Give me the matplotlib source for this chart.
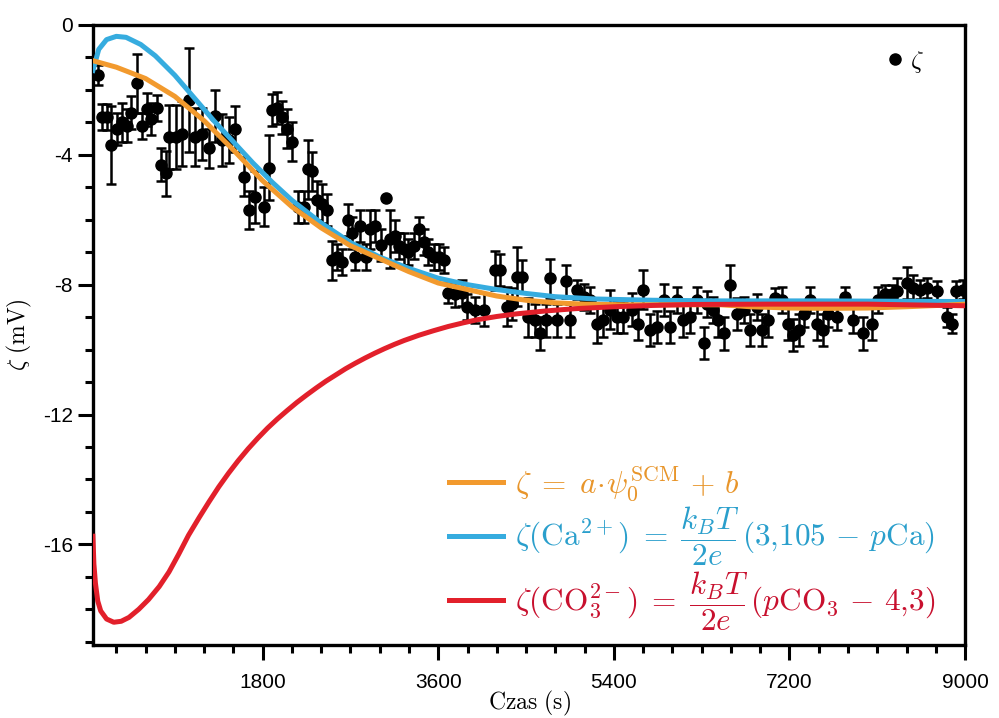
import matplotlib
matplotlib.use("Agg")
import matplotlib.pyplot as plt
from matplotlib.lines import Line2D
from matplotlib.ticker import MultipleLocator, FixedLocator

# ---- measured zeta data (time s, zeta mV, error mV) ----
t_data = [113, 155, 200, 250, 310, 360, 405, 455, 510, 560, 610, 660, 715, 755, 810, 840,
          910, 970, 1040, 1110, 1180, 1245, 1315, 1385, 1450, 1520, 1605, 1655, 1725, 1810,
          1860, 1895, 1945, 1995, 2050, 2105, 2160, 2220, 2260, 2310, 2360, 2410, 2460, 2515,
          2565, 2615, 2670, 2720, 2750, 2800, 2855, 2905, 2955, 3010, 3060, 3110, 3160, 3195,
          3245, 3295, 3350, 3400, 3450, 3500, 3555, 3605, 3655, 3705, 3775, 3845, 3895, 3980,
          4065, 4185, 4235, 4305, 4360, 4410, 4460, 4525, 4595, 4645, 4700, 4750, 4820, 4905,
          4955, 5025, 5090, 5160, 5230, 5290, 5360, 5430, 5495, 5585, 5650, 5700, 5775, 5845,
          5910, 5980, 6050, 6110, 6185, 6255, 6320, 6355, 6420, 6470, 6525, 6595, 6665, 6730,
          6800, 6870, 6920, 6985, 7055, 7125, 7190, 7240, 7295, 7345, 7415, 7480, 7545, 7595,
          7685, 7770, 7855, 7955, 8050, 8110, 8180, 8250, 8300, 8405, 8470, 8540, 8610, 8710,
          8815, 8865, 8910, 8975]
z_data = [-1.54, -2.83, -2.83, -3.7, -3.2, -3.0, -3.1, -2.7, -1.8, -3.1, -2.6, -2.9, -2.55, -4.3, -4.57, -3.45,
          -3.45, -3.35, -2.3, -3.45, -3.35, -3.8, -2.8, -3.55, -3.55, -3.2, -4.68, -5.7, -5.3, -5.6,
          -4.4, -2.62, -2.55, -2.85, -3.2, -3.6, -5.6, -5.6, -4.45, -4.5, -5.4, -5.5, -5.7, -7.25,
          -7.15, -7.3, -6.0, -6.4, -7.15, -6.2, -7.15, -6.3, -6.2, -6.77, -5.33, -6.6, -6.5, -6.8,
          -6.9, -7.0, -6.8, -6.3, -6.7, -7.0, -7.15, -7.15, -7.25, -8.25, -8.3, -8.25, -8.68, -8.77,
          -8.77, -7.55, -7.55, -8.68, -8.6, -7.75, -7.75, -9.0, -9.1, -9.5, -9.1, -7.8, -9.1, -7.9,
          -9.1, -8.15, -8.37, -8.47, -9.2, -9.1, -8.77, -9.0, -9.0, -8.77, -9.2, -8.15, -9.4, -9.3,
          -8.47, -9.3, -8.47, -9.1, -9.0, -8.47, -9.8, -8.6, -8.77, -9.1, -9.5, -8.0, -8.9, -8.77,
          -9.4, -8.68, -9.4, -9.1, -8.4, -8.47, -9.2, -9.55, -9.4, -8.9, -8.47, -9.2, -9.4, -8.9,
          -9.0, -8.37, -9.1, -9.5, -9.2, -8.47, -8.3, -8.3, -8.2, -7.95, -8.1, -8.15, -8.1, -8.2,
          -9.0, -9.2, -8.2, -8.15]
z_err = [0.3, 0.4, 0.4, 1.2, 0.5, 0.6, 0.5, 0.5, 0.9, 0.4, 0.5, 0.5, 0.4, 0.5, 0.7, 1.0,
         1.0, 1.0, 1.6, 0.9, 0.8, 0.6, 0.8, 0.8, 0.7, 0.7, 0.6, 0.6, 0.8, 0.6,
         1.0, 0.5, 0.5, 0.5, 0.6, 0.6, 0.5, 0.5, 0.9, 0.6, 0.6, 0.6, 0.5, 0.6,
         0.4, 0.4, 0.5, 0.5, 0.4, 0.5, 0.4, 0.6, 0.5, 0.5, 0.0, 0.9, 0.5, 0.4,
         0.5, 0.4, 0.4, 0.4, 0.4, 0.4, 0.4, 0.4, 0.4, 0.3, 0.4, 0.4, 0.4, 0.4,
         0.5, 0.6, 0.5, 0.6, 0.5, 0.9, 0.5, 0.6, 0.5, 0.5, 0.5, 0.6, 0.5, 0.5,
         0.5, 0.3, 0.4, 0.4, 0.6, 0.5, 0.6, 0.5, 0.5, 0.5, 0.5, 0.6, 0.5, 0.5,
         0.5, 0.5, 0.4, 0.5, 0.5, 0.4, 0.5, 0.4, 0.4, 0.5, 0.5, 0.6, 0.5, 0.4,
         0.5, 0.4, 0.5, 0.5, 0.3, 0.4, 0.5, 0.5, 0.5, 0.4, 0.4, 0.5, 0.5, 0.4,
         0.4, 0.3, 0.4, 0.5, 0.5, 0.4, 0.3, 0.3, 0.4, 0.5, 0.4, 0.3, 0.3, 0.3,
         0.3, 0.3, 0.3, 0.3]

# ---- model curves (time s, zeta mV) ----
t_scm = [60, 300, 600, 900, 1200, 1500, 1800, 2100, 2400, 2700, 3000, 3300, 3600, 3900, 4200,
         4500, 4800, 5100, 5500, 6000, 6500, 6800, 7200, 7600, 8000, 8400, 8800, 9000]
z_scm = [-1.1, -1.3, -1.65, -2.2, -2.95, -3.85, -4.8, -5.6, -6.25, -6.8, -7.2, -7.6, -7.95, -8.15, -8.35,
         -8.48, -8.56, -8.6, -8.62, -8.62, -8.62, -8.68, -8.72, -8.73, -8.72, -8.68, -8.63, -8.6]

t_ca = [60, 120, 200, 300, 400, 550, 700, 900, 1100, 1300, 1500, 1700, 1900, 2100, 2400, 2700,
        3000, 3300, 3600, 3900, 4200, 4500, 4800, 5200, 5800, 6500, 7500, 9000]
z_ca = [-1.4, -0.75, -0.45, -0.35, -0.38, -0.6, -0.95, -1.55, -2.25, -2.95, -3.6, -4.25, -4.85, -5.4, -6.1, -6.7,
        -7.15, -7.5, -7.8, -8.0, -8.15, -8.27, -8.37, -8.44, -8.48, -8.5, -8.5, -8.52]

t_co3 = [60, 70, 86, 110, 140, 200, 274, 350, 430, 530, 630, 740, 840, 940, 1040, 1150, 1250, 1350,
         1450, 1550, 1650, 1750, 1850, 1950, 2050, 2150, 2250, 2350, 2450, 2550, 2650, 2750, 2850,
         2950, 3050, 3150, 3250, 3400, 3550, 3700, 3850, 4000, 4200, 4400, 4700, 5000, 5400, 5800,
         6200, 7000, 8000, 9000]
z_co3 = [-15.75, -16.6, -17.2, -17.75, -18.05, -18.3, -18.4, -18.37, -18.25, -18.0, -17.7, -17.3, -16.85,
         -16.3, -15.72, -15.17, -14.69, -14.23, -13.81, -13.42, -13.06, -12.73, -12.42, -12.14, -11.88,
         -11.63, -11.40, -11.18, -10.97, -10.78, -10.59, -10.42, -10.26, -10.11, -9.97, -9.84, -9.72,
         -9.56, -9.42, -9.29, -9.18, -9.08, -8.98, -8.9, -8.81, -8.74, -8.68, -8.64, -8.61, -8.6, -8.6, -8.65]

c_orange = "#F29A2E"
c_blue = "#36ACDF"
c_red = "#E2202B"

plt.rcParams["mathtext.fontset"] = "cm"
plt.rcParams["axes.unicode_minus"] = False
plt.rcParams["font.family"] = ["Liberation Sans", "DejaVu Sans"]

fig = plt.figure(figsize=(9.99, 7.18), dpi=100)
ax = fig.add_axes([0.093, 0.1017, 0.873, 0.8635])

ax.errorbar(t_data, z_data, yerr=z_err, fmt="o", color="black", ms=8,
            elinewidth=1.8, capsize=3.5, capthick=1.8, zorder=2)
l1, = ax.plot(t_scm, z_scm, color=c_orange, lw=3.6, zorder=4,
              label=r"$\zeta \;=\; a\!\cdot\!\psi_0^{\mathrm{SCM}} \,+\, b$")
l2, = ax.plot(t_ca, z_ca, color=c_blue, lw=3.6, zorder=3,
              label=r"$\zeta(\mathrm{Ca}^{2+}) \;=\; \dfrac{k_BT}{2e}\,(3{,}105 \,-\, p\mathrm{Ca})$")
l3, = ax.plot(t_co3, z_co3, color=c_red, lw=3.6, zorder=5,
              label=r"$\zeta(\mathrm{CO}_3^{2-}) \;=\; \dfrac{k_BT}{2e}\,(p\mathrm{CO}_3 \,-\, 4{,}3)$")

ax.set_xlim(60, 9000)
ax.set_ylim(-19.1, 0)
ax.xaxis.set_major_locator(FixedLocator([1800, 3600, 5400, 7200, 9000]))
ax.xaxis.set_minor_locator(MultipleLocator(300))
ax.yaxis.set_major_locator(MultipleLocator(4))
ax.yaxis.set_minor_locator(MultipleLocator(1))
ax.tick_params(which="major", direction="out", length=11, width=2.2, labelsize=15)
ax.tick_params(axis="x", which="major", pad=9)
ax.tick_params(which="minor", direction="out", length=6, width=2.2)
for s in ax.spines.values():
    s.set_linewidth(2.4)

ax.set_xlabel(r"$\mathrm{Czas\ (s)}$", fontsize=17, labelpad=-2)
ax.set_ylabel(r"$\zeta\ \mathrm{(mV)}$", fontsize=17, labelpad=6)

leg = ax.legend(handles=[l1, l2, l3], loc="lower left", bbox_to_anchor=(0.408, 0.02),
                frameon=False, fontsize=22.5, handlelength=1.75, handletextpad=0.38,
                labelspacing=0.05, borderpad=0, borderaxespad=0)
for txt, col in zip(leg.get_texts(), ["#E8952A", "#2A9FCC", "#C8102E"]):
    txt.set_color(col)
ax.add_artist(leg)

h = Line2D([], [], ls="none", marker="o", color="black", ms=8)
leg2 = ax.legend(handles=[h], labels=[r"$\zeta$"], loc="upper right",
                 bbox_to_anchor=(0.978, 0.998), frameon=False, fontsize=18,
                 handlelength=0.6, handletextpad=0.3)

fig.savefig("out.png", dpi=100)
